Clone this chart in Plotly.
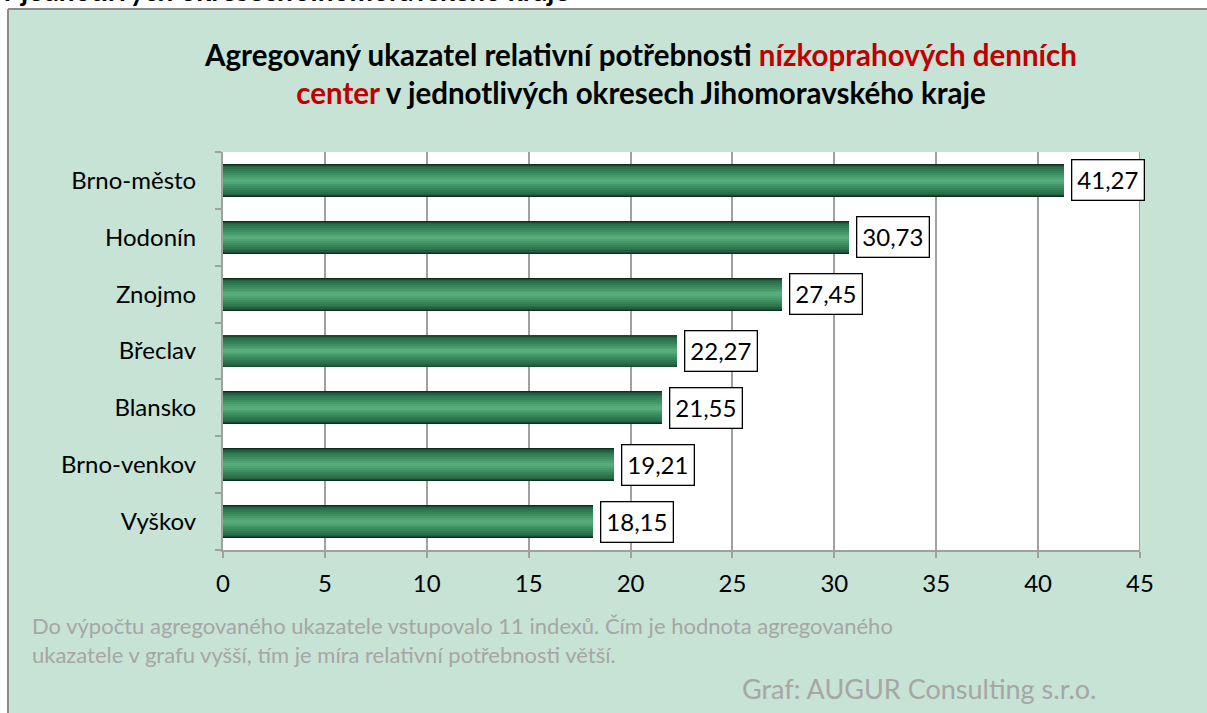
import plotly.graph_objects as go

categories = ["Brno-město", "Hodonín", "Znojmo", "Břeclav", "Blansko", "Brno-venkov", "Vyškov"]
values = [41.27, 30.73, 27.45, 22.27, 21.55, 19.21, 18.15]
x_ticks = [0, 5, 10, 15, 20, 25, 30, 35, 40, 45]

W, H = 1207, 713
L, R, T, B = 223, 67, 152, 163
pw, ph = W - L - R, H - T - B

def px(x):
    return (x - L) / pw

def py(y):
    return (H - B - y) / ph

FONT = "Lato"

fig = go.Figure()
# layered bars to simulate cylinder gradient
layers = [
    (0.58, "#0f2e1e"),
    (0.55, "#1a4a31"),
    (0.51, "#22603f"),
    (0.46, "#2a7049"),
    (0.40, "#307a51"),
    (0.33, "#368459"),
    (0.26, "#3d8f61"),
    (0.19, "#46996a"),
    (0.12, "#4fa474"),
    (0.06, "#58ac7c"),
]
for wdt, col in layers:
    fig.add_trace(go.Bar(
        y=categories, x=values, orientation="h", width=wdt,
        marker=dict(color=col, line=dict(width=0)),
        hoverinfo="skip", showlegend=False,
    ))

for c, v in zip(categories, values):
    fig.add_annotation(
        x=v, y=c, xref="x", yref="y", text=f"{v:.2f}".replace(".", ","),
        showarrow=False, xanchor="left", xshift=7,
        bgcolor="white", bordercolor="black", borderwidth=1.3, borderpad=5,
        font=dict(family=FONT, size=24, color="black"),
    )

shapes = [
    dict(type="rect", xref="paper", yref="paper", x0=px(-5), x1=px(W + 5), y0=py(9), y1=py(-5),
         fillcolor="white", line=dict(width=0), layer="below"),
    dict(type="rect", xref="paper", yref="paper", x0=px(-5), x1=px(8), y0=py(H + 5), y1=py(-5),
         fillcolor="white", line=dict(width=0), layer="below"),
    dict(type="line", xref="paper", yref="paper", x0=px(8), x1=px(W + 5), y0=py(9), y1=py(9),
         line=dict(color="#8c8c8c", width=2)),
    dict(type="line", xref="paper", yref="paper", x0=px(8), x1=px(8), y0=py(9), y1=py(H + 5),
         line=dict(color="#8c8c8c", width=2)),
]

annotations = [
    dict(xref="paper", yref="paper", x=px(640), y=py(74), xanchor="center", yanchor="middle",
         showarrow=False, align="center",
         text="<b>Agregovaný ukazatel relativní potřebnosti <span style='color:#C00000'>nízkoprahových denních</span><br>"
              "<span style='color:#C00000'>center</span> v jednotlivých okresech Jihomoravského kraje</b>",
         font=dict(family=FONT, size=29.5, color="black")),
    dict(xref="paper", yref="paper", x=px(-2), y=py(-10), xanchor="left", yanchor="middle",
         showarrow=False, text="<b>v jednotlivých okresech Jihomoravského kraje</b>",
         font=dict(family=FONT, size=28, color="black")),
    dict(xref="paper", yref="paper", x=px(30), y=py(640), xanchor="left", yanchor="middle",
         showarrow=False, align="left",
         text="Do výpočtu agregovaného ukazatele vstupovalo 11 indexů. Čím je hodnota agregovaného<br>"
              "ukazatele v grafu vyšší, tím je míra relativní potřebnosti větší.",
         font=dict(family=FONT, size=22, color="#a6a6a6")),
    dict(xref="paper", yref="paper", x=px(740), y=py(688), xanchor="left", yanchor="middle",
         showarrow=False, text="Graf: AUGUR Consulting s.r.o.",
         font=dict(family=FONT, size=27, color="#a6a6a6")),
]

fig.update_layout(
    width=W, height=H,
    margin=dict(l=L, r=R, t=T, b=B, pad=0),
    paper_bgcolor="#c6e3d5", plot_bgcolor="white",
    barmode="overlay", bargap=0,
    shapes=shapes,
    annotations=list(fig.layout.annotations) + annotations,
    xaxis=dict(range=[0, 45], tickvals=x_ticks, ticktext=[str(t) for t in x_ticks],
               showgrid=True, gridcolor="#a0a0a0", gridwidth=2,
               showline=True, linecolor="#a0a0a0", linewidth=2,
               ticks="outside", ticklen=6, tickcolor="#a0a0a0", tickwidth=2,
               ticklabelstandoff=5,
               tickfont=dict(family=FONT, size=24, color="black"), zeroline=False,
               fixedrange=True),
    yaxis=dict(categoryorder="array", categoryarray=categories[::-1], autorange=False,
               range=[-0.5, 6.5],
               showline=True, linecolor="#a0a0a0", linewidth=2,
               ticks="outside", ticklen=6, tickcolor="#a0a0a0", tickwidth=2, tickson="boundaries",
               ticklabelstandoff=20,
               tickfont=dict(family=FONT, size=24, color="black"), showgrid=False),
    font=dict(family=FONT),
)
fig.add_shape(type="line", xref="x", yref="paper", x0=45, x1=45, y0=0, y1=1,
              line=dict(color="#a0a0a0", width=2))

fig.write_html("out.html", config={"displayModeBar": False},
               post_script="document.body.style.margin='0';document.body.style.padding='0';document.body.style.overflow='hidden';")
